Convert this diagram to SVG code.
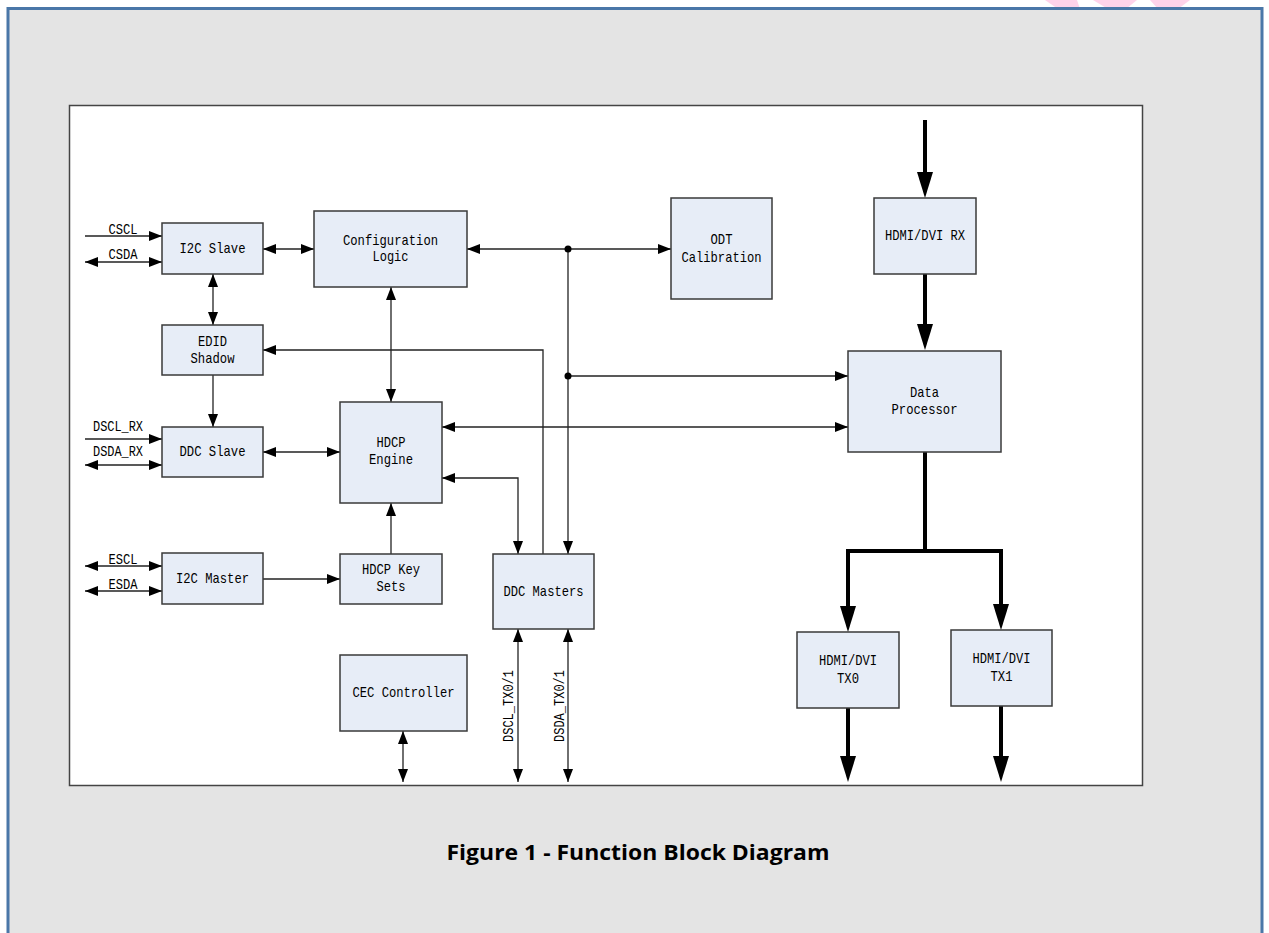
<svg xmlns="http://www.w3.org/2000/svg" width="1269" height="933" viewBox="0 0 1269 933">
<style>
.box{fill:#e7edf7;stroke:#3a3a3a;stroke-width:1.5}
.t{font-family:"Liberation Mono","DejaVu Sans Mono",monospace;font-size:15px;fill:#000;text-anchor:middle}
.lb{font-family:"Liberation Mono","DejaVu Sans Mono",monospace;font-size:14px;fill:#000;text-anchor:middle}
.ln{fill:none;stroke:#222;stroke-width:1.3}
.tk{fill:none;stroke:#000;stroke-width:4;stroke-linejoin:miter}
</style>
<defs>
<marker id="a" markerUnits="userSpaceOnUse" markerWidth="14" markerHeight="10" refX="13" refY="5" orient="auto-start-reverse" viewBox="0 0 14 10"><path d="M0,0 L13,5 L0,10 z" fill="#000"/></marker>
<marker id="b" markerUnits="userSpaceOnUse" markerWidth="27" markerHeight="16" refX="6" refY="8" orient="auto-start-reverse" viewBox="0 0 27 16"><path d="M0,0 L26,8 L0,16 z" fill="#000"/></marker>
</defs>
<rect x="0" y="0" width="1269" height="933" fill="#fff"/>
<g id="watermark" fill="#ffd3ea">
<polygon points="1045,0 1077,0 1080,9 1058,9"/>
<polygon points="1093,0 1137,0 1126,9 1108,9"/>
<polygon points="1150,0 1190,0 1178,9 1158,9"/>
</g>
<rect x="8" y="8.5" width="1254" height="940" fill="#e4e4e4" stroke="#4a77a8" stroke-width="3"/>
<rect x="69.5" y="105.5" width="1073" height="680" fill="#fff" stroke="#444" stroke-width="1.5"/>

<g id="connectors">
<path class="ln" d="M85,236 H162" marker-end="url(#a)"/>
<path class="ln" d="M85,262 H162" marker-start="url(#a)" marker-end="url(#a)"/>
<path class="ln" d="M263,249 H314" marker-start="url(#a)" marker-end="url(#a)"/>
<path class="ln" d="M213,274 V325" marker-start="url(#a)" marker-end="url(#a)"/>
<path class="ln" d="M213,375 V427" marker-end="url(#a)"/>
<path class="ln" d="M85,439 H162" marker-end="url(#a)"/>
<path class="ln" d="M85,465 H162" marker-start="url(#a)" marker-end="url(#a)"/>
<path class="ln" d="M263,452 H340" marker-start="url(#a)" marker-end="url(#a)"/>
<path class="ln" d="M85,566 H162" marker-start="url(#a)" marker-end="url(#a)"/>
<path class="ln" d="M85,591 H162" marker-start="url(#a)" marker-end="url(#a)"/>
<path class="ln" d="M263,579 H340" marker-end="url(#a)"/>
<path class="ln" d="M391,554 V503" marker-end="url(#a)"/>
<path class="ln" d="M391,287 V402" marker-start="url(#a)" marker-end="url(#a)"/>
<path class="ln" d="M467,249 H671" marker-start="url(#a)" marker-end="url(#a)"/>
<path class="ln" d="M568,249 V554" marker-end="url(#a)"/>
<path class="ln" d="M568,376 H848" marker-end="url(#a)"/>
<path class="ln" d="M442,427 H848" marker-start="url(#a)" marker-end="url(#a)"/>
<path class="ln" d="M543,554 V350 H263" marker-end="url(#a)"/>
<path class="ln" d="M442,478 H518 V554" marker-start="url(#a)" marker-end="url(#a)"/>
<path class="ln" d="M518,629 V782" marker-start="url(#a)" marker-end="url(#a)"/>
<path class="ln" d="M568,629 V782" marker-start="url(#a)" marker-end="url(#a)"/>
<path class="ln" d="M403,731 V782" marker-start="url(#a)" marker-end="url(#a)"/>
<circle cx="568" cy="249" r="3.5" fill="#000"/>
<circle cx="568" cy="376" r="3.5" fill="#000"/>
<path class="tk" d="M925,120 V178" marker-end="url(#b)"/>
<path class="tk" d="M925,274 V330" marker-end="url(#b)"/>
<path class="tk" d="M925,452 V551"/>
<path class="tk" d="M848,612 V551 H1001 V610" marker-start="url(#b)" marker-end="url(#b)"/>
<path class="tk" d="M848,708 V762" marker-end="url(#b)"/>
<path class="tk" d="M1001,706 V762" marker-end="url(#b)"/>
<text class="lb" x="123" y="234" textLength="29" lengthAdjust="spacingAndGlyphs">CSCL</text>
<text class="lb" x="123" y="259" textLength="29" lengthAdjust="spacingAndGlyphs">CSDA</text>
<text class="lb" x="118" y="431" textLength="50" lengthAdjust="spacingAndGlyphs">DSCL_RX</text>
<text class="lb" x="118" y="456" textLength="50" lengthAdjust="spacingAndGlyphs">DSDA_RX</text>
<text class="lb" x="123" y="564" textLength="29" lengthAdjust="spacingAndGlyphs">ESCL</text>
<text class="lb" x="123" y="589" textLength="29" lengthAdjust="spacingAndGlyphs">ESDA</text>
<text class="lb" transform="translate(513,706) rotate(-90)" textLength="72" lengthAdjust="spacingAndGlyphs">DSCL_TX0/1</text>
<text class="lb" transform="translate(564,706) rotate(-90)" textLength="72" lengthAdjust="spacingAndGlyphs">DSDA_TX0/1</text>
</g>

<g id="i2c-slave"><rect class="box" x="162" y="223" width="101" height="51"/><text class="t" x="212.5" y="253" textLength="66" lengthAdjust="spacingAndGlyphs">I2C Slave</text></g>
<g id="config-logic"><rect class="box" x="314" y="211" width="153" height="76"/><text class="t" x="390.5" y="245" textLength="95" lengthAdjust="spacingAndGlyphs">Configuration</text><text class="t" x="390.5" y="261" textLength="36" lengthAdjust="spacingAndGlyphs">Logic</text></g>
<g id="odt-calibration"><rect class="box" x="671" y="198" width="101" height="101"/><text class="t" x="721.5" y="244" textLength="22" lengthAdjust="spacingAndGlyphs">ODT</text><text class="t" x="721.5" y="262" textLength="80" lengthAdjust="spacingAndGlyphs">Calibration</text></g>
<g id="hdmi-rx"><rect class="box" x="874" y="198" width="102" height="76"/><text class="t" x="925" y="240" textLength="80" lengthAdjust="spacingAndGlyphs">HDMI/DVI RX</text></g>
<g id="edid-shadow"><rect class="box" x="162" y="325" width="101" height="50"/><text class="t" x="212.5" y="346" textLength="29" lengthAdjust="spacingAndGlyphs">EDID</text><text class="t" x="212.5" y="363" textLength="44" lengthAdjust="spacingAndGlyphs">Shadow</text></g>
<g id="data-processor"><rect class="box" x="848" y="351" width="153" height="101"/><text class="t" x="924.5" y="397" textLength="29" lengthAdjust="spacingAndGlyphs">Data</text><text class="t" x="924.5" y="414" textLength="66" lengthAdjust="spacingAndGlyphs">Processor</text></g>
<g id="ddc-slave"><rect class="box" x="162" y="427" width="101" height="50"/><text class="t" x="212.5" y="456" textLength="66" lengthAdjust="spacingAndGlyphs">DDC Slave</text></g>
<g id="hdcp-engine"><rect class="box" x="340" y="402" width="102" height="101"/><text class="t" x="391" y="447" textLength="29" lengthAdjust="spacingAndGlyphs">HDCP</text><text class="t" x="391" y="464" textLength="44" lengthAdjust="spacingAndGlyphs">Engine</text></g>
<g id="i2c-master"><rect class="box" x="162" y="553" width="101" height="51"/><text class="t" x="212.5" y="583" textLength="73" lengthAdjust="spacingAndGlyphs">I2C Master</text></g>
<g id="hdcp-key-sets"><rect class="box" x="340" y="554" width="102" height="50"/><text class="t" x="391" y="574" textLength="58" lengthAdjust="spacingAndGlyphs">HDCP Key</text><text class="t" x="391" y="591" textLength="29" lengthAdjust="spacingAndGlyphs">Sets</text></g>
<g id="ddc-masters"><rect class="box" x="493" y="554" width="101" height="75"/><text class="t" x="543.5" y="596" textLength="80" lengthAdjust="spacingAndGlyphs">DDC Masters</text></g>
<g id="cec-controller"><rect class="box" x="340" y="655" width="127" height="76"/><text class="t" x="403.5" y="697" textLength="102" lengthAdjust="spacingAndGlyphs">CEC Controller</text></g>
<g id="hdmi-tx0"><rect class="box" x="797" y="632" width="102" height="76"/><text class="t" x="848" y="665" textLength="58" lengthAdjust="spacingAndGlyphs">HDMI/DVI</text><text class="t" x="848" y="683" textLength="22" lengthAdjust="spacingAndGlyphs">TX0</text></g>
<g id="hdmi-tx1"><rect class="box" x="951" y="630" width="101" height="76"/><text class="t" x="1001.5" y="663" textLength="58" lengthAdjust="spacingAndGlyphs">HDMI/DVI</text><text class="t" x="1001.5" y="681" textLength="22" lengthAdjust="spacingAndGlyphs">TX1</text></g>

<text x="638" y="860" font-family="'Open Sans',Lato,'Liberation Sans',sans-serif" font-weight="bold" font-size="21" text-anchor="middle" fill="#000" textLength="383" lengthAdjust="spacingAndGlyphs">Figure 1 - Function Block Diagram</text>
</svg>
